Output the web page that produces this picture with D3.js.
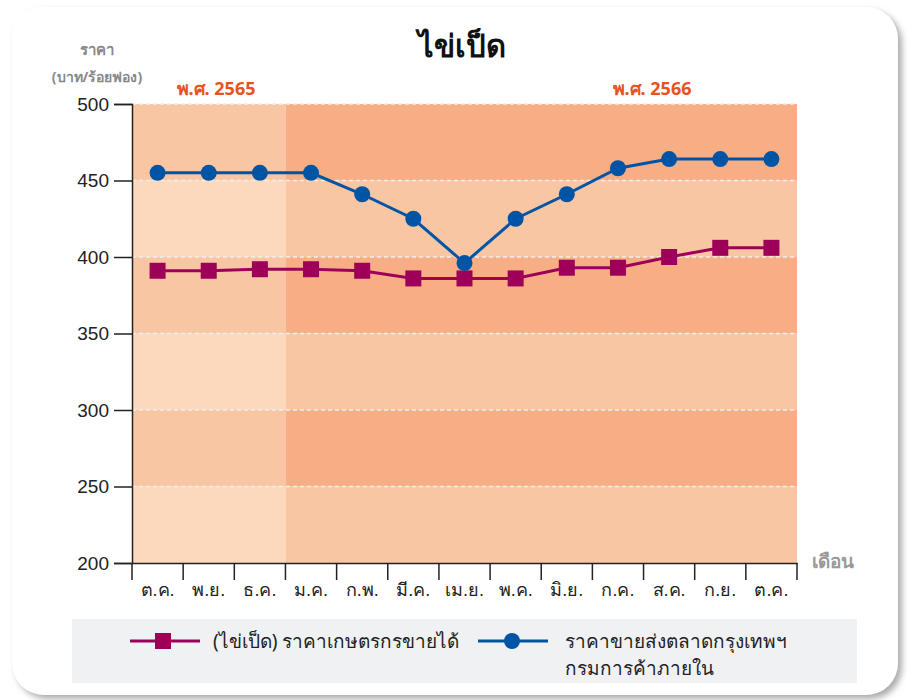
<!DOCTYPE html>
<html>
<head>
<meta charset="utf-8">
<script src="https://cdn.jsdelivr.net/npm/d3@7/dist/d3.min.js"></script>
<style>
  body { margin: 0; background: #fff; }
  svg { display: block; font-family: "Noto Sans", "DejaVu Sans", sans-serif; }
</style>
</head>
<body>
<div id="chart"></div>
<script>
var months = ['ต.ค.','พ.ย.','ธ.ค.','ม.ค.','ก.พ.','มี.ค.','เม.ย.','พ.ค.','มิ.ย.','ก.ค.','ส.ค.','ก.ย.','ต.ค.'];
var farmPrice = [391, 391, 392, 392, 391, 386, 386, 386, 393, 393, 400, 406, 406];
var wholesalePrice = [455, 455, 455, 455, 441, 425, 396, 425, 441, 458, 464, 464, 464];
var yTicks = [200, 250, 300, 350, 400, 450, 500];
var seriesNames = ['(ไข่เป็ด) ราคาเกษตรกรขายได้', ['ราคาขายส่งตลาดกรุงเทพฯ', 'กรมการค้าภายใน']];
var yearLabels = ['พ.ศ. 2565', 'พ.ศ. 2566'];

var drawChart = function(){

    var width = 915, height = 700;
    var svg = d3.select("#chart")
                .append("svg")
                .attr("width", width)
                .attr("height", height);

    // card with shadow
    var defs = svg.append("defs");
    var f = defs.append("filter").attr("id","shadow").attr("x","-5%").attr("y","-5%").attr("width","110%").attr("height","110%");
    f.append("feDropShadow").attr("dx",4).attr("dy",4).attr("stdDeviation",3).attr("flood-color","#888").attr("flood-opacity",0.7);
    svg.append("rect").attr("x",12).attr("y",7).attr("width",886).attr("height",688)
       .attr("rx",32).attr("fill","#fff").attr("filter","url(#shadow)");

    var left = 132, right = 797, top = 104, bottom = 563;

    var x = d3.scaleBand().domain(d3.range(months.length)).range([left, right]);
    var y = d3.scaleLinear().domain([200, 500]).range([bottom, top]);

    // background stripes: lighter for 2565, darker for 2566
    var splitX = x(3);
    var bands = d3.range(yTicks.length - 1).map(function(i){ return [yTicks[i], yTicks[i+1]]; });
    var g = svg.append("g");
    bands.forEach(function(b, i){
        var odd = i % 2 === 1;
        g.append("rect").attr("x", left).attr("y", y(b[1]))
         .attr("width", splitX - left).attr("height", y(b[0]) - y(b[1]))
         .attr("fill", odd ? "#f9c6a4" : "#fcd8bd");
        g.append("rect").attr("x", splitX).attr("y", y(b[1]))
         .attr("width", right - splitX).attr("height", y(b[0]) - y(b[1]))
         .attr("fill", odd ? "#f7ae84" : "#f9c6a4");
    });

    // dashed grid
    g.selectAll(".grid").data(yTicks.filter(function(t){ return t > 200; }))
      .enter().append("line")
      .attr("x1", left).attr("x2", right)
      .attr("y1", function(d){ return y(d); }).attr("y2", function(d){ return y(d); })
      .attr("stroke", "#eee").attr("stroke-width", 1.5)
      .attr("stroke-dasharray", "4,3");

    // axes
    var yAxis = d3.axisLeft(y).tickValues(yTicks).tickSize(18).tickPadding(5);
    var ya = svg.append("g").attr("transform","translate(" + left + ",0)").call(yAxis);
    ya.select(".domain").attr("stroke","#222").attr("stroke-width",1.5);
    ya.selectAll(".tick line").attr("stroke","#222").attr("stroke-width",1.5);
    ya.selectAll("text").attr("font-size",19).attr("fill","#222");

    var xAxis = d3.axisBottom(x).tickSize(0).tickFormat(function(i){ return months[i]; });
    var xa = svg.append("g").attr("transform","translate(0," + bottom + ")").call(xAxis);
    xa.select(".domain").attr("stroke","#222").attr("stroke-width",1.5);
    xa.selectAll("text").attr("font-size",18).attr("fill","#222").attr("y",0).attr("dy",0)
      .attr("transform","translate(0,33)");
    xa.selectAll(".sep").data(d3.range(months.length + 1)).enter().append("line")
      .attr("x1", function(i){ return left + i * x.step(); })
      .attr("x2", function(i){ return left + i * x.step(); })
      .attr("y1", 0).attr("y2", 17)
      .attr("stroke","#222").attr("stroke-width",1.5);

    // lines
    var line = d3.line().x(function(d, i){ return x(i) + x.bandwidth() / 2; }).y(function(d){ return y(d); });
    svg.append("path").datum(farmPrice).attr("d", line)
       .attr("fill","none").attr("stroke","#9e0059").attr("stroke-width",3);
    svg.append("path").datum(wholesalePrice).attr("d", line)
       .attr("fill","none").attr("stroke","#0054a6").attr("stroke-width",3);

    svg.selectAll(".sq").data(farmPrice).enter().append("rect")
       .attr("x", function(d, i){ return x(i) + x.bandwidth() / 2 - 8; })
       .attr("y", function(d){ return y(d) - 8; })
       .attr("width",16).attr("height",16).attr("fill","#9e0059");
    svg.selectAll(".dot").data(wholesalePrice).enter().append("circle")
       .attr("cx", function(d, i){ return x(i) + x.bandwidth() / 2; })
       .attr("cy", function(d){ return y(d); })
       .attr("r",8).attr("fill","#0054a6");

    // titles
    svg.append("text").attr("x",462).attr("y",57).attr("text-anchor","middle")
       .attr("font-size",31).attr("font-weight","bold").attr("fill","#111").text("ไข่เป็ด");
    svg.append("text").attr("x",97).attr("y",55).attr("text-anchor","middle")
       .attr("font-size",15).attr("font-weight","bold").attr("fill","#888").text("ราคา");
    svg.append("text").attr("x",97).attr("y",82).attr("text-anchor","middle")
       .attr("font-size",14).attr("font-weight","bold").attr("fill","#888").text("(บาท/ร้อยฟอง)");
    svg.append("text").attr("x",216).attr("y",95).attr("text-anchor","middle")
       .attr("font-size",18).attr("font-weight","bold").attr("fill","#e8521f").text(yearLabels[0]);
    svg.append("text").attr("x",652).attr("y",95).attr("text-anchor","middle")
       .attr("font-size",18).attr("font-weight","bold").attr("fill","#e8521f").text(yearLabels[1]);
    svg.append("text").attr("x",833).attr("y",568).attr("text-anchor","middle")
       .attr("font-size",19).attr("font-weight","bold").attr("fill","#999").text("เดือน");

    // legend
    var lg = svg.append("g");
    lg.append("rect").attr("x",72).attr("y",619).attr("width",785).attr("height",64).attr("fill","#f0f1f3");
    lg.append("line").attr("x1",130).attr("x2",200).attr("y1",641).attr("y2",641)
      .attr("stroke","#9e0059").attr("stroke-width",3);
    lg.append("rect").attr("x",155).attr("y",633).attr("width",16).attr("height",16).attr("fill","#9e0059");
    lg.append("text").attr("x",213).attr("y",648).attr("font-size",19).attr("fill","#222").text(seriesNames[0]);
    lg.append("line").attr("x1",478).attr("x2",548).attr("y1",641).attr("y2",641)
      .attr("stroke","#0054a6").attr("stroke-width",3);
    lg.append("circle").attr("cx",512).attr("cy",641).attr("r",8).attr("fill","#0054a6");
    lg.selectAll(".lt").data(seriesNames[1]).enter().append("text")
      .attr("x",565).attr("y",function(d, i){ return 648 + i * 27; })
      .attr("font-size",19).attr("fill","#222").text(function(d){ return d; });
};

drawChart();
</script>
</body>
</html>
